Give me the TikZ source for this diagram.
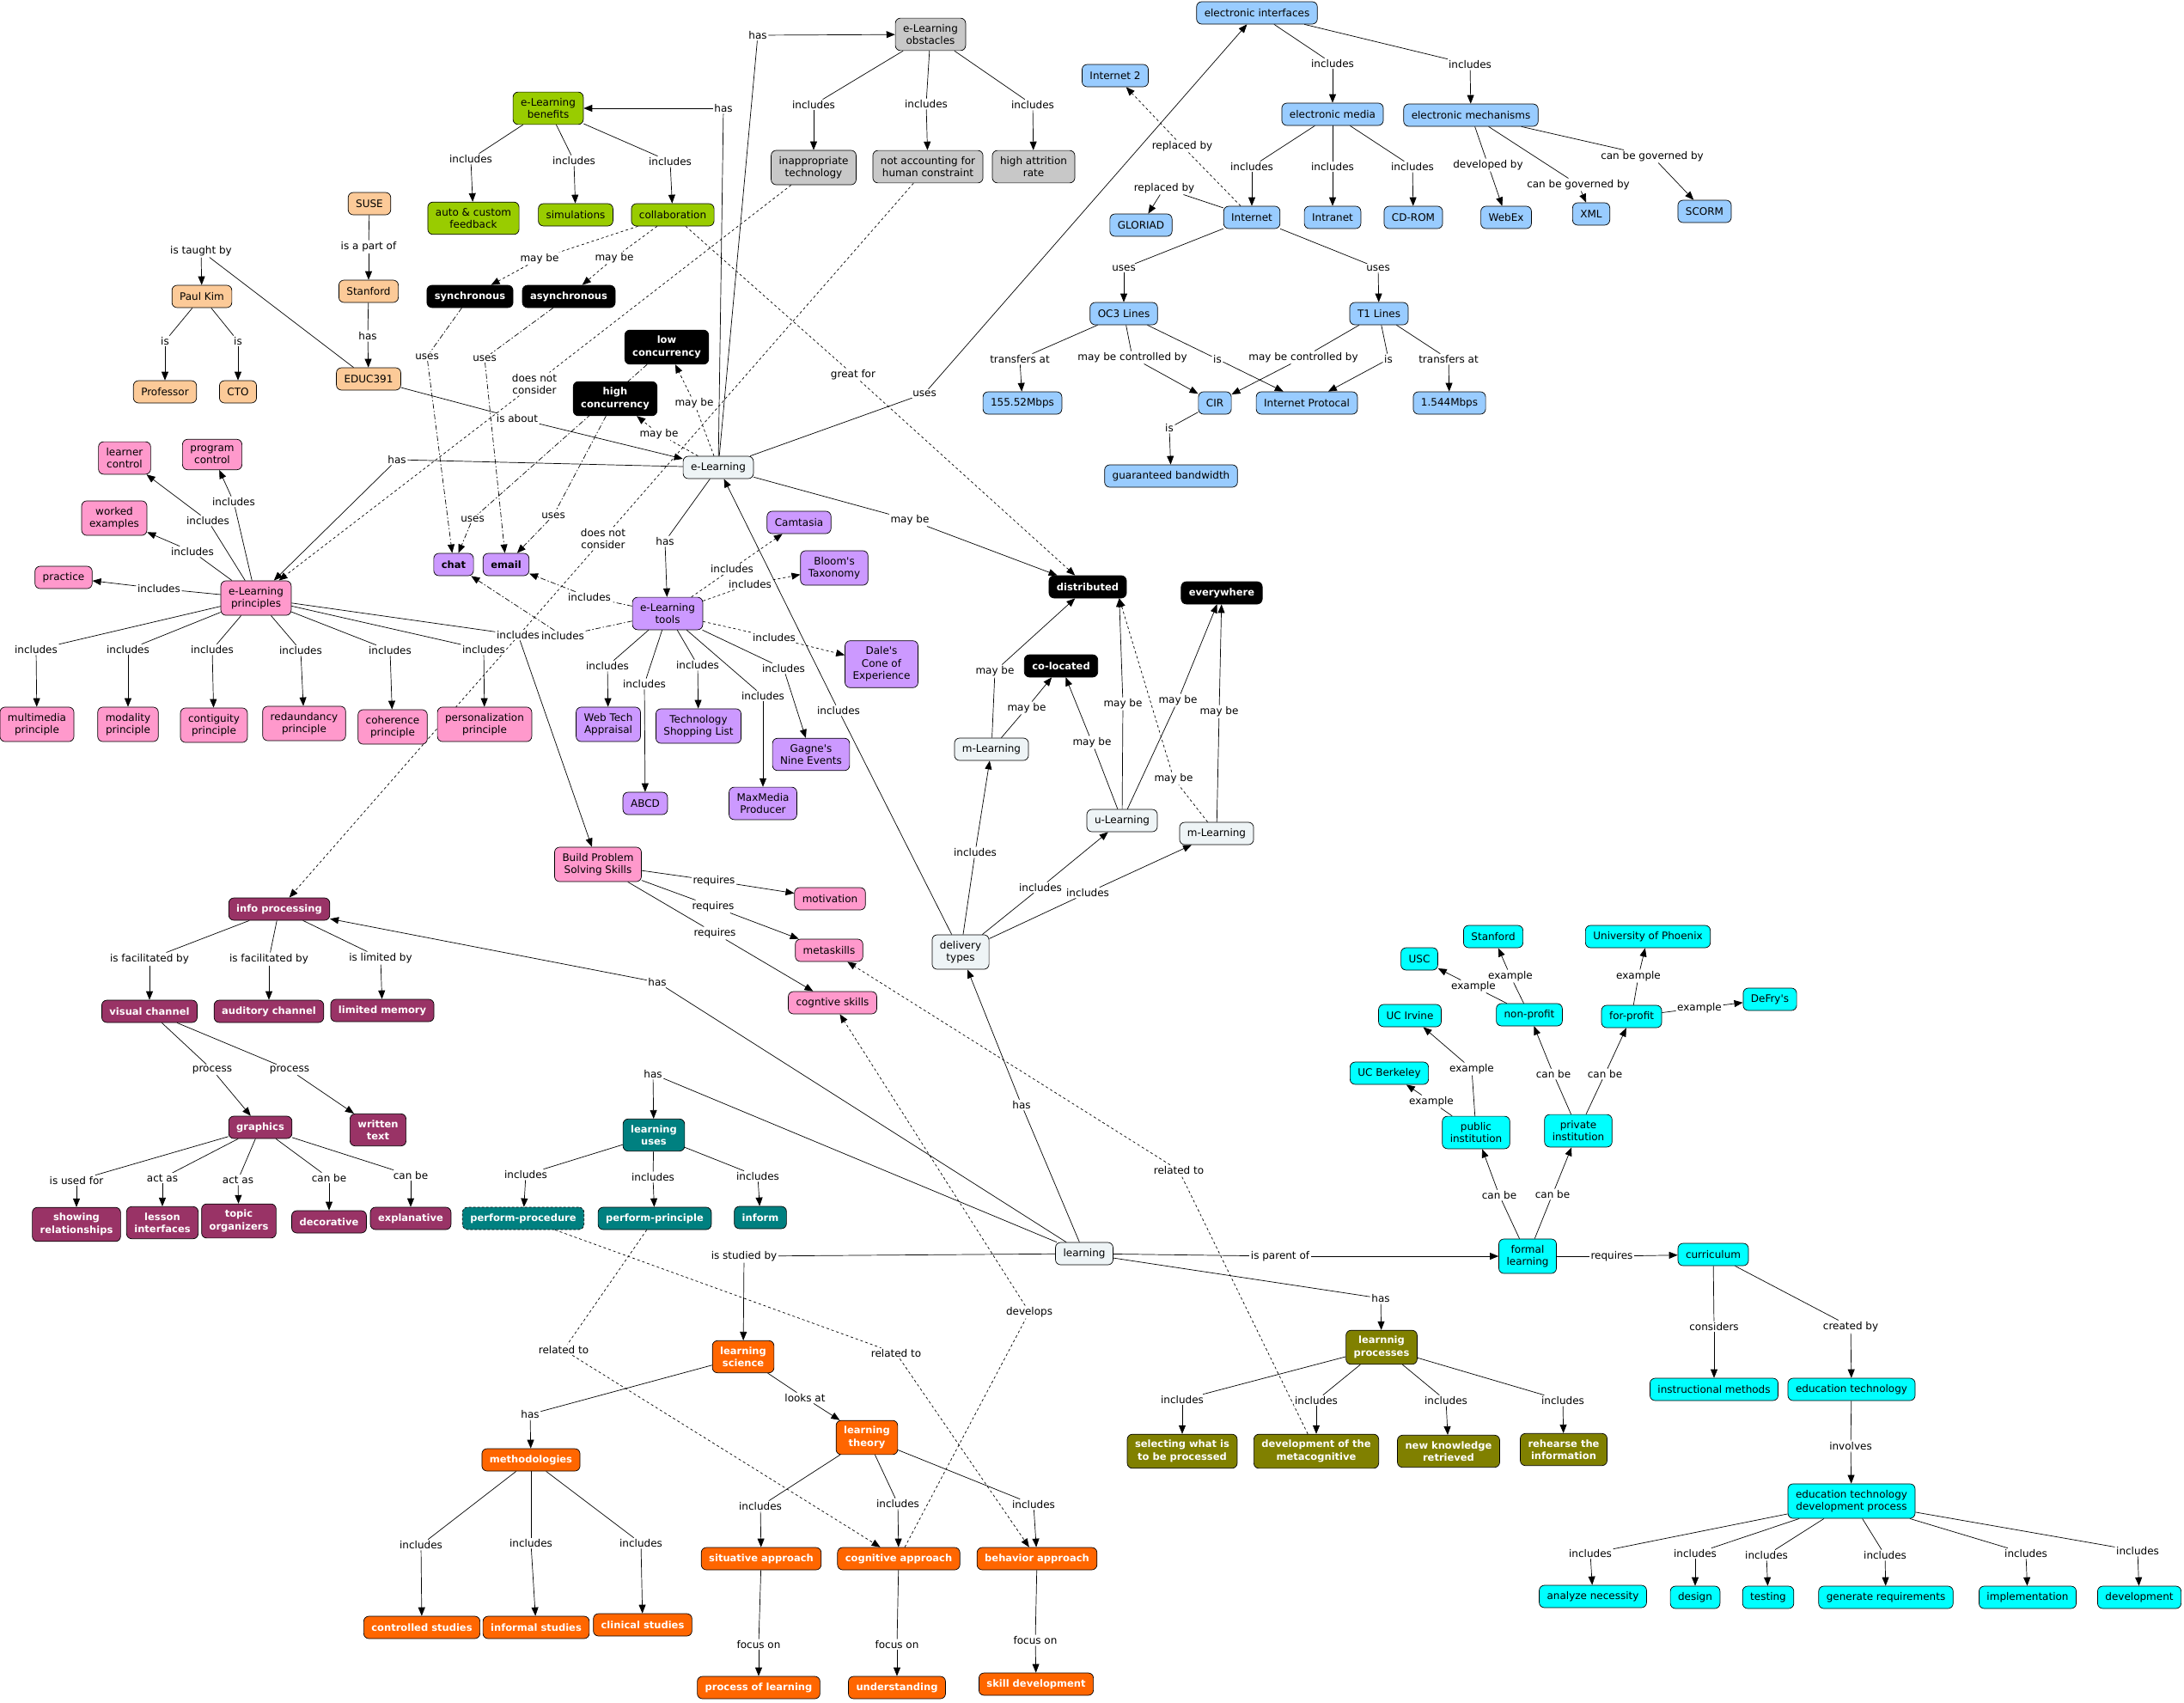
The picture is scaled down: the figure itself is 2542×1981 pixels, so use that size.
\documentclass[tikz,border=0pt]{standalone}
\usepackage{fontspec}
\setmainfont{DejaVu Sans}
\usetikzlibrary{arrows.meta,backgrounds}

\definecolor{cpeach}{RGB}{252,202,152}
\definecolor{cgreen}{RGB}{153,204,0}
\definecolor{cgray}{RGB}{200,200,200}
\definecolor{cblue}{RGB}{153,204,255}
\definecolor{cpink}{RGB}{255,153,204}
\definecolor{cpurple}{RGB}{204,153,255}
\definecolor{clight}{RGB}{238,244,246}
\definecolor{cmaroon}{RGB}{153,51,102}
\definecolor{cteal}{RGB}{0,128,128}
\definecolor{corange}{RGB}{255,102,0}
\definecolor{colive}{RGB}{128,128,0}
\definecolor{ccyan}{RGB}{0,255,255}

\begin{document}
\begin{tikzpicture}[
  x=1pt, y=-1pt,
  font=\fontsize{12}{14.5}\selectfont,
  concept/.style={
    draw,
    rounded corners=6pt,
    align=center,
    inner xsep=9pt,
    inner ysep=7pt,
    minimum height=26pt,
    line width=0.7pt
  },
  peachbox/.style={concept, fill=cpeach},
  greenbox/.style={concept, fill=cgreen},
  graybox/.style={concept, fill=cgray},
  bluebox/.style={concept, fill=cblue},
  pinkbox/.style={concept, fill=cpink},
  purplebox/.style={concept, fill=cpurple},
  lightbox/.style={concept, fill=clight},
  cyanbox/.style={concept, fill=ccyan},
  darkbox/.style={concept, text=white, font=\fontsize{11.5}{14.5}\selectfont\bfseries},
  blackbox/.style={darkbox, fill=black},
  maroonbox/.style={darkbox, fill=cmaroon},
  tealbox/.style={darkbox, fill=cteal},
  orangebox/.style={darkbox, fill=corange},
  olivebox/.style={darkbox, fill=colive},
  lbl/.style={fill=white, inner sep=1.5pt, align=center},
  link/.style={line width=0.7pt},
  arrow/.style={-{Triangle[length=10pt,width=8pt]}},
  dashline/.style={dash pattern=on 3pt off 3pt},
  dotline/.style={dash pattern=on 6pt off 2.5pt on 1.5pt off 2.5pt}
]
\useasboundingbox (0,0) rectangle (2542,1981);

% EDUC391 group
\node[peachbox] (suse) at (430,237) {SUSE};
\node[peachbox] (stanford) at (429,339) {Stanford};
\node[peachbox] (educ) at (429,441) {EDUC391};
\node[peachbox] (paulkim) at (235,345) {Paul Kim};
\node[peachbox] (professor) at (192,456) {Professor};
\node[peachbox] (cto) at (277,456) {CTO};

% benefits and obstacles
\node[greenbox] (benefits) at (638,126) {e-Learning\\benefits};
\node[greenbox] (feedback) at (551,254) {auto \& custom\\feedback};
\node[greenbox] (simulations) at (670,250) {simulations};
\node[greenbox] (collab) at (783,250) {collaboration};
\node[graybox] (obstacles) at (1083,40) {e-Learning\\obstacles};
\node[graybox] (inapptech) at (947,195) {inappropriate\\technology};
\node[graybox] (notaccount) at (1080,194) {not accounting for\\human constraint};
\node[graybox] (attrition) at (1203,194) {high attrition\\rate};

\node[blackbox] (sync) at (547,345) {synchronous};
\node[blackbox] (async) at (662,345) {asynchronous};
\node[blackbox] (lowcon) at (776,404) {low\\concurrency};
\node[blackbox] (highcon) at (716,464) {high\\concurrency};
\node[blackbox] (distributed) at (1266,683) {distributed};
\node[blackbox] (colocated) at (1235,775) {co-located};
\node[blackbox] (everywhere) at (1422,690) {everywhere};

\node[lightbox] (elearning) at (836,544) {e-Learning};
\node[lightbox] (delivery) at (1118,1108) {delivery\\types};
\node[lightbox] (mlearnA) at (1154,872) {m-Learning};
\node[lightbox] (ulearn) at (1306,955) {u-Learning};
\node[lightbox] (mlearnB) at (1416,970) {m-Learning};
\node[lightbox] (learning) at (1262,1459) {learning};

% electronic interfaces
\node[bluebox] (einterfaces) at (1463,15) {electronic interfaces};
\node[bluebox] (internet2) at (1298,88) {Internet 2};
\node[bluebox] (emedia) at (1551,133) {electronic media};
\node[bluebox] (emech) at (1712,134) {electronic mechanisms};
\node[bluebox] (gloriad) at (1328,262) {GLORIAD};
\node[bluebox] (internet) at (1457,253) {Internet};
\node[bluebox] (intranet) at (1551,253) {Intranet};
\node[bluebox] (cdrom) at (1645,253) {CD-ROM};
\node[bluebox] (webex) at (1753,253) {WebEx};
\node[bluebox] (xml) at (1852,249) {XML};
\node[bluebox] (scorm) at (1984,246) {SCORM};
\node[bluebox] (oc3) at (1308,365) {OC3 Lines};
\node[bluebox] (t1) at (1605,365) {T1 Lines};
\node[bluebox] (mbps155) at (1190,469) {155.52Mbps};
\node[bluebox] (cir) at (1414,469) {CIR};
\node[bluebox] (iprot) at (1521,469) {Internet Protocal};
\node[bluebox] (mbps1544) at (1687,469) {1.544Mbps};
\node[bluebox] (bandwidth) at (1363,554) {guaranteed bandwidth};

% principles
\node[pinkbox] (learnerctl) at (145,533) {learner\\control};
\node[pinkbox] (programctl) at (247,529) {program\\control};
\node[pinkbox] (worked) at (133,603) {worked\\examples};
\node[pinkbox] (practice) at (74,672) {practice};
\node[pinkbox] (principles) at (298,696) {e-Learning\\principles};
\node[pinkbox] (multimedia) at (43,843) {multimedia\\principle};
\node[pinkbox] (modality) at (149,843) {modality\\principle};
\node[pinkbox] (contiguity) at (249,844) {contiguity\\principle};
\node[pinkbox] (redundancy) at (354,842) {redaundancy\\principle};
\node[pinkbox] (coherence) at (457,846) {coherence\\principle};
\node[pinkbox] (personal) at (564,843) {personalization\\principle};
\node[pinkbox] (bpss) at (696,1006) {Build Problem\\Solving Skills};
\node[pinkbox] (motivation) at (966,1046) {motivation};
\node[pinkbox] (metaskills) at (965,1106) {metaskills};
\node[pinkbox] (cogskills) at (969,1167) {cogntive skills};

% tools
\node[purplebox, font=\fontsize{11.5}{14.5}\selectfont\bfseries] (chat) at (528,657) {chat};
\node[purplebox, font=\fontsize{11.5}{14.5}\selectfont\bfseries] (email) at (589,657) {email};
\node[purplebox] (camtasia) at (930,608) {Camtasia};
\node[purplebox] (blooms) at (971,661) {Bloom\textquotesingle s\\Taxonomy};
\node[purplebox] (tools) at (777,714) {e-Learning\\tools};
\node[purplebox] (dales) at (1026,773) {Dale\textquotesingle s\\Cone of\\Experience};
\node[purplebox] (webtech) at (708,843) {Web Tech\\Appraisal};
\node[purplebox] (shopping) at (813,845) {Technology\\Shopping List};
\node[purplebox] (gagne) at (944,878) {Gagne\textquotesingle s\\Nine Events};
\node[purplebox] (abcd) at (751,935) {ABCD};
\node[purplebox] (maxmedia) at (888,935) {MaxMedia\\Producer};

% info processing
\node[maroonbox] (infoproc) at (325,1058) {info processing};
\node[maroonbox] (visual) at (174,1177) {visual channel};
\node[maroonbox] (auditory) at (313,1177) {auditory channel};
\node[maroonbox] (memory) at (445,1176) {limited memory};
\node[maroonbox] (graphics) at (303,1312) {graphics};
\node[maroonbox] (written) at (440,1315) {written\\text};
\node[maroonbox] (showing) at (89,1425) {showing\\relationships};
\node[maroonbox] (lesson) at (189,1423) {lesson\\interfaces};
\node[maroonbox] (topic) at (278,1421) {topic\\organizers};
\node[maroonbox] (decorative) at (383,1422) {decorative};
\node[maroonbox] (explanative) at (478,1418) {explanative};

% learning uses
\node[tealbox] (uses) at (761,1321) {learning\\uses};
\node[tealbox, dash pattern=on 3pt off 2pt] (procedure) at (609,1418) {perform-procedure};
\node[tealbox] (principle) at (762,1418) {perform-principle};
\node[tealbox] (inform) at (885,1417) {inform};

% learning science
\node[orangebox] (science) at (865,1579) {learning\\science};
\node[orangebox] (theory) at (1009,1673) {learning\\theory};
\node[orangebox] (methods) at (618,1699) {methodologies};
\node[orangebox] (controlled) at (491,1894) {controlled studies};
\node[orangebox] (informal) at (624,1894) {informal studies};
\node[orangebox] (clinical) at (748,1891) {clinical studies};
\node[orangebox] (situative) at (886,1814) {situative approach};
\node[orangebox] (cognitive) at (1046,1814) {cognitive approach};
\node[orangebox] (behavior) at (1207,1814) {behavior approach};
\node[orangebox] (process) at (883,1964) {process of learning};
\node[orangebox] (understanding) at (1044,1964) {understanding};
\node[orangebox] (skill) at (1206,1960) {skill development};

% learning processes
\node[olivebox] (lprocesses) at (1608,1568) {learnnig\\processes};
\node[olivebox] (selecting) at (1376,1689) {selecting what is\\to be processed};
\node[olivebox] (metacog) at (1532,1689) {development of the\\metacognitive};
\node[olivebox] (newknow) at (1686,1689) {new knowledge\\retrieved};
\node[olivebox] (rehearse) at (1820,1687) {rehearse the\\information};

% formal learning
\node[cyanbox] (formal) at (1778,1462) {formal\\learning};
\node[cyanbox] (public) at (1718,1318) {public\\institution};
\node[cyanbox] (private) at (1837,1316) {private\\institution};
\node[cyanbox] (ucirvine) at (1641,1182) {UC Irvine};
\node[cyanbox] (ucberkeley) at (1617,1249) {UC Berkeley};
\node[cyanbox] (nonprofit) at (1780,1181) {non-profit};
\node[cyanbox] (forprofit) at (1899,1183) {for-profit};
\node[cyanbox] (stanfordb) at (1738,1090) {Stanford};
\node[cyanbox] (usc) at (1652,1116) {USC};
\node[cyanbox] (phoenix) at (1918,1090) {University of Phoenix};
\node[cyanbox] (defrys) at (2060,1163) {DeFry\textquotesingle s};
\node[cyanbox] (curriculum) at (1994,1460) {curriculum};
\node[cyanbox] (instmethods) at (1995,1617) {instructional methods};
\node[cyanbox] (edtech) at (2155,1617) {education technology};
\node[cyanbox] (edprocess) at (2155,1747) {education technology\\development process};
\node[cyanbox] (analyze) at (1854,1858) {analyze necessity};
\node[cyanbox] (design) at (1973,1859) {design};
\node[cyanbox] (testing) at (2058,1859) {testing};
\node[cyanbox] (genreq) at (2195,1859) {generate requirements};
\node[cyanbox] (implementation) at (2360,1859) {implementation};
\node[cyanbox] (development) at (2490,1859) {development};

% linking phrases
\node[lbl] (lpart) at (429,287) {is a part of};
\node[lbl] (lhasE) at (428,391) {has};
\node[lbl] (ltaught) at (234,292) {is taught by};
\node[lbl] (lis1) at (192,397) {is};
\node[lbl] (lis2) at (277,397) {is};
\node[lbl] (labout) at (602,487) {is about};
\node[lbl] (lhasB) at (842,126) {has};
\node[lbl] (lhasO) at (882,41) {has};
\node[lbl] (lincFb) at (548,185) {includes};
\node[lbl] (lincSim) at (668,187) {includes};
\node[lbl] (lincCol) at (780,188) {includes};
\node[lbl] (lmaySync) at (628,301) {may be};
\node[lbl] (lmayAsync) at (715,300) {may be};
\node[lbl] (lgreat) at (993,436) {great for};
\node[lbl] (lincInap) at (947,122) {includes};
\node[lbl] (lincNot) at (1078,121) {includes};
\node[lbl] (lincAttr) at (1202,122) {includes};
\node[lbl] (ldnc1) at (622,447) {does not\\consider};
\node[lbl] (ldnc2) at (702,627) {does not\\consider};
\node[lbl] (lmayLow) at (808,469) {may be};
\node[lbl] (lmayHigh) at (767,505) {may be};
\node[lbl] (lusesSync) at (497,415) {uses};
\node[lbl] (lusesAsync) at (564,417) {uses};
\node[lbl] (lusesLow) at (550,604) {uses};
\node[lbl] (lusesHigh) at (644,600) {uses};
\node[lbl] (lhasTools) at (774,630) {has};
\node[lbl] (lhasPrin) at (462,535) {has};
\node[lbl] (lusesEI) at (1076,458) {uses};
\node[lbl] (lmayDist) at (1059,605) {may be};
\node[lbl] (lincEL) at (976,827) {includes};

\node[lbl] (lincPrac) at (185,685) {includes};
\node[lbl] (lincWork) at (224,642) {includes};
\node[lbl] (lincLearner) at (242,606) {includes};
\node[lbl] (lincProg) at (272,584) {includes};
\node[lbl] (lincMM) at (42,756) {includes};
\node[lbl] (lincMod) at (149,756) {includes};
\node[lbl] (lincCont) at (247,756) {includes};
\node[lbl] (lincRed) at (350,757) {includes};
\node[lbl] (lincCoh) at (454,757) {includes};
\node[lbl] (lincPers) at (563,756) {includes};
\node[lbl] (lincBP) at (603,739) {includes};

\node[lbl] (lincEmail) at (686,695) {includes};
\node[lbl] (lincChat) at (655,740) {includes};
\node[lbl] (lincCam) at (852,662) {includes};
\node[lbl] (lincBloom) at (873,680) {includes};
\node[lbl] (lincDale) at (901,742) {includes};
\node[lbl] (lincWeb) at (707,775) {includes};
\node[lbl] (lincAbcd) at (750,796) {includes};
\node[lbl] (lincShop) at (812,774) {includes};
\node[lbl] (lincMax) at (888,810) {includes};
\node[lbl] (lincGagne) at (912,778) {includes};
\node[lbl] (lreq1) at (831,1025) {requires};
\node[lbl] (lreq2) at (830,1055) {requires};
\node[lbl] (lreq3) at (832,1086) {requires};

\node[lbl] (lhasInfo) at (765,1143) {has};
\node[lbl] (lfac1) at (174,1116) {is facilitated by};
\node[lbl] (lfac2) at (313,1116) {is facilitated by};
\node[lbl] (llim) at (443,1115) {is limited by};
\node[lbl] (lproc1) at (247,1245) {process};
\node[lbl] (lproc2) at (337,1245) {process};
\node[lbl] (lusedfor) at (89,1374) {is used for};
\node[lbl] (lact1) at (189,1371) {act as};
\node[lbl] (lact2) at (277,1373) {act as};
\node[lbl] (lcan1) at (383,1371) {can be};
\node[lbl] (lcan2) at (478,1368) {can be};

\node[lbl] (lhasUses) at (760,1250) {has};
\node[lbl] (lincProc) at (612,1367) {includes};
\node[lbl] (lincPrin) at (760,1370) {includes};
\node[lbl] (lincInf) at (882,1369) {includes};
\node[lbl] (lrel1) at (1043,1575) {related to};
\node[lbl] (lrel2) at (656,1571) {related to};
\node[lbl] (lstudied) at (866,1462) {is studied by};
\node[lbl] (lhasMeth) at (617,1646) {has};
\node[lbl] (llooks) at (937,1627) {looks at};
\node[lbl] (lincCtl) at (490,1798) {includes};
\node[lbl] (lincInfm) at (618,1796) {includes};
\node[lbl] (lincClin) at (746,1796) {includes};
\node[lbl] (lincSit) at (885,1753) {includes};
\node[lbl] (lincCog) at (1045,1750) {includes};
\node[lbl] (lincBeh) at (1203,1751) {includes};
\node[lbl] (lfoc1) at (883,1914) {focus on};
\node[lbl] (lfoc2) at (1044,1914) {focus on};
\node[lbl] (lfoc3) at (1205,1909) {focus on};
\node[lbl] (ldevelops) at (1198,1527) {develops};
\node[lbl] (lrel3) at (1372,1362) {related to};

\node[lbl] (lhasDel) at (1189,1286) {has};
\node[lbl] (lparent) at (1490,1462) {is parent of};
\node[lbl] (lhasProc) at (1607,1511) {has};
\node[lbl] (lincSel) at (1376,1629) {includes};
\node[lbl] (lincMeta) at (1532,1630) {includes};
\node[lbl] (lincNew) at (1683,1630) {includes};
\node[lbl] (lincReh) at (1819,1630) {includes};

\node[lbl] (lincMA) at (1135,992) {includes};
\node[lbl] (lincU) at (1211,1033) {includes};
\node[lbl] (lincMB) at (1266,1039) {includes};
\node[lbl] (lmay1) at (1158,781) {may be};
\node[lbl] (lmay2) at (1195,824) {may be};
\node[lbl] (lmay3) at (1271,864) {may be};
\node[lbl] (lmay4) at (1307,819) {may be};
\node[lbl] (lmay5) at (1371,815) {may be};
\node[lbl] (lmay6) at (1366,906) {may be};
\node[lbl] (lmay7) at (1419,828) {may be};

\node[lbl] (lcanPub) at (1745,1391) {can be};
\node[lbl] (lcanPriv) at (1807,1390) {can be};
\node[lbl] (lexIrv) at (1713,1244) {example};
\node[lbl] (lexBerk) at (1666,1282) {example};
\node[lbl] (lcanNon) at (1808,1250) {can be};
\node[lbl] (lcanFor) at (1868,1250) {can be};
\node[lbl] (lexStan) at (1758,1136) {example};
\node[lbl] (lexUsc) at (1715,1148) {example};
\node[lbl] (lexPhx) at (1907,1136) {example};
\node[lbl] (lexDef) at (1978,1173) {example};
\node[lbl] (lrequires) at (1876,1462) {requires};
\node[lbl] (lconsiders) at (1995,1544) {considers};
\node[lbl] (lcreated) at (2154,1544) {created by};
\node[lbl] (linvolves) at (2154,1683) {involves};
\node[lbl] (lincAn) at (1851,1808) {includes};
\node[lbl] (lincDes) at (1973,1808) {includes};
\node[lbl] (lincTest) at (2056,1810) {includes};
\node[lbl] (lincGen) at (2194,1810) {includes};
\node[lbl] (lincImp) at (2358,1808) {includes};
\node[lbl] (lincDev) at (2488,1805) {includes};

\node[lbl] (lincEM) at (1551,74) {includes};
\node[lbl] (lincEMech) at (1711,75) {includes};
\node[lbl] (lincNet) at (1457,194) {includes};
\node[lbl] (lincIntra) at (1551,194) {includes};
\node[lbl] (lincCd) at (1644,194) {includes};
\node[lbl] (ldevby) at (1732,192) {developed by};
\node[lbl] (lgovXml) at (1837,215) {can be governed by};
\node[lbl] (lgovScorm) at (1923,182) {can be governed by};
\node[lbl] (lrepl2) at (1376,170) {replaced by};
\node[lbl] (lreplG) at (1355,219) {replaced by};
\node[lbl] (lusesOC) at (1308,312) {uses};
\node[lbl] (lusesT1) at (1604,312) {uses};
\node[lbl] (ltrans1) at (1187,418) {transfers at};
\node[lbl] (lctl1) at (1318,416) {may be controlled by};
\node[lbl] (lis3) at (1417,418) {is};
\node[lbl] (lctl2) at (1517,416) {may be controlled by};
\node[lbl] (lis4) at (1616,418) {is};
\node[lbl] (ltrans2) at (1686,418) {transfers at};
\node[lbl] (lis5) at (1361,498) {is};

\begin{scope}[on background layer]
% EDUC391 group
\draw[link] (suse) -- (lpart) edge[arrow] (stanford);
\draw[link] (stanford) -- (lhasE) edge[arrow] (educ);
\draw[link] (educ) -- (ltaught) edge[arrow] (paulkim);
\draw[link] (paulkim) -- (lis1) edge[arrow] (professor);
\draw[link] (paulkim) -- (lis2) edge[arrow] (cto);
\draw[link] (educ) -- (labout) edge[arrow] (elearning);

% e-Learning
\draw[link] (elearning) -- (lhasB) edge[arrow] (benefits);
\draw[link] (benefits) -- (lincFb) edge[arrow] (feedback);
\draw[link] (benefits) -- (lincSim) edge[arrow] (simulations);
\draw[link] (benefits) -- (lincCol) edge[arrow] (collab);
\draw[link, dashline] (collab) -- (lmaySync) edge[arrow] (sync);
\draw[link, dashline] (collab) -- (lmayAsync) edge[arrow] (async);
\draw[link, dashline] (collab) -- (lgreat) edge[arrow] (distributed);
\draw[link] (elearning) -- (lhasO) edge[arrow] (obstacles);
\draw[link] (obstacles) -- (lincInap) edge[arrow] (inapptech);
\draw[link] (obstacles) -- (lincNot) edge[arrow] (notaccount);
\draw[link] (obstacles) -- (lincAttr) edge[arrow] (attrition);
\draw[link, dashline] (inapptech) -- (ldnc1) edge[arrow] (principles);
\draw[link, dashline] (notaccount) -- (ldnc2) edge[arrow] (infoproc);
\draw[link, dashline] (elearning) -- (lmayLow) edge[arrow] (lowcon);
\draw[link, dashline] (elearning) -- (lmayHigh) edge[arrow] (highcon);
\draw[link, dotline] (sync) -- (lusesSync) edge[arrow] (chat);
\draw[link, dotline] (async) -- (lusesAsync) edge[arrow] (email);
\draw[link, dotline] (lowcon) -- (lusesLow) edge[arrow] (chat);
\draw[link, dotline] (highcon) -- (lusesHigh) edge[arrow] (email);
\draw[link] (elearning) -- (lhasTools) edge[arrow] (tools);
\draw[link] (elearning) -- (lhasPrin) edge[arrow] (principles);
\draw[link] (elearning) -- (lusesEI) edge[arrow] (einterfaces);
\draw[link] (elearning) -- (lmayDist) edge[arrow] (distributed);
\draw[link] (delivery) -- (lincEL) edge[arrow] (elearning);

% principles
\draw[link] (principles) -- (lincPrac) edge[arrow] (practice);
\draw[link] (principles) -- (lincWork) edge[arrow] (worked);
\draw[link] (principles) -- (lincLearner) edge[arrow] (learnerctl);
\draw[link] (principles) -- (lincProg) edge[arrow] (programctl);
\draw[link] (principles) -- (lincMM) edge[arrow] (multimedia);
\draw[link] (principles) -- (lincMod) edge[arrow] (modality);
\draw[link] (principles) -- (lincCont) edge[arrow] (contiguity);
\draw[link] (principles) -- (lincRed) edge[arrow] (redundancy);
\draw[link] (principles) -- (lincCoh) edge[arrow] (coherence);
\draw[link] (principles) -- (lincPers) edge[arrow] (personal);
\draw[link] (principles) -- (lincBP) edge[arrow] (bpss);
\draw[link] (bpss) -- (lreq1) edge[arrow] (motivation);
\draw[link] (bpss) -- (lreq2) edge[arrow] (metaskills);
\draw[link] (bpss) -- (lreq3) edge[arrow] (cogskills);

% tools
\draw[link, dotline] (tools) -- (lincEmail) edge[arrow] (email);
\draw[link, dotline] (tools) -- (lincChat) edge[arrow] (chat);
\draw[link, dashline] (tools) -- (lincCam) edge[arrow] (camtasia);
\draw[link, dashline] (tools) -- (lincBloom) edge[arrow] (blooms);
\draw[link, dashline] (tools) -- (lincDale) edge[arrow] (dales);
\draw[link] (tools) -- (lincWeb) edge[arrow] (webtech);
\draw[link] (tools) -- (lincAbcd) edge[arrow] (abcd);
\draw[link] (tools) -- (lincShop) edge[arrow] (shopping);
\draw[link] (tools) -- (lincMax) edge[arrow] (maxmedia);
\draw[link] (tools) -- (lincGagne) edge[arrow] (gagne);

% info processing
\draw[link] (learning) -- (lhasInfo) edge[arrow] (infoproc);
\draw[link] (infoproc) -- (lfac1) edge[arrow] (visual);
\draw[link] (infoproc) -- (lfac2) edge[arrow] (auditory);
\draw[link] (infoproc) -- (llim) edge[arrow] (memory);
\draw[link] (visual) -- (lproc1) edge[arrow] (graphics);
\draw[link] (visual) -- (lproc2) edge[arrow] (written);
\draw[link] (graphics) -- (lusedfor) edge[arrow] (showing);
\draw[link] (graphics) -- (lact1) edge[arrow] (lesson);
\draw[link] (graphics) -- (lact2) edge[arrow] (topic);
\draw[link] (graphics) -- (lcan1) edge[arrow] (decorative);
\draw[link] (graphics) -- (lcan2) edge[arrow] (explanative);

% learning uses and learning science
\draw[link] (learning) -- (lhasUses) edge[arrow] (uses);
\draw[link] (uses) -- (lincProc) edge[arrow] (procedure);
\draw[link] (uses) -- (lincPrin) edge[arrow] (principle);
\draw[link] (uses) -- (lincInf) edge[arrow] (inform);
\draw[link, dashline] (procedure) -- (lrel1) edge[arrow] (behavior);
\draw[link, dashline] (principle) -- (lrel2) edge[arrow] (cognitive);
\draw[link] (learning) -- (lstudied) edge[arrow] (science);
\draw[link] (science) -- (lhasMeth) edge[arrow] (methods);
\draw[link] (science) -- (llooks) edge[arrow] (theory);
\draw[link] (methods) -- (lincCtl) edge[arrow] (controlled);
\draw[link] (methods) -- (lincInfm) edge[arrow] (informal);
\draw[link] (methods) -- (lincClin) edge[arrow] (clinical);
\draw[link] (theory) -- (lincSit) edge[arrow] (situative);
\draw[link] (theory) -- (lincCog) edge[arrow] (cognitive);
\draw[link] (theory) -- (lincBeh) edge[arrow] (behavior);
\draw[link] (situative) -- (lfoc1) edge[arrow] (process);
\draw[link] (cognitive) -- (lfoc2) edge[arrow] (understanding);
\draw[link] (behavior) -- (lfoc3) edge[arrow] (skill);
\draw[link, dashline] (cognitive) -- (ldevelops) edge[arrow] (cogskills);
\draw[link, dashline] (metacog) -- (lrel3) edge[arrow] (metaskills);

% learning processes
\draw[link] (learning) -- (lhasDel) edge[arrow] (delivery);
\draw[link] (learning) -- (lparent) edge[arrow] (formal);
\draw[link] (learning) -- (lhasProc) edge[arrow] (lprocesses);
\draw[link] (lprocesses) -- (lincSel) edge[arrow] (selecting);
\draw[link] (lprocesses) -- (lincMeta) edge[arrow] (metacog);
\draw[link] (lprocesses) -- (lincNew) edge[arrow] (newknow);
\draw[link] (lprocesses) -- (lincReh) edge[arrow] (rehearse);

% delivery types
\draw[link] (delivery) -- (lincMA) edge[arrow] (mlearnA);
\draw[link] (delivery) -- (lincU) edge[arrow] (ulearn);
\draw[link] (delivery) -- (lincMB) edge[arrow] (mlearnB);
\draw[link] (mlearnA) -- (lmay1) edge[arrow] (distributed);
\draw[link] (mlearnA) -- (lmay2) edge[arrow] (colocated);
\draw[link] (ulearn) -- (lmay3) edge[arrow] (colocated);
\draw[link] (ulearn) -- (lmay4) edge[arrow] (distributed.-20);
\draw[link] (ulearn) -- (lmay5) edge[arrow] (everywhere);
\draw[link, dashline] (mlearnB) -- (lmay6) edge[arrow] (distributed.-20);
\draw[link] (mlearnB) -- (lmay7) edge[arrow] (everywhere);

% formal learning
\draw[link] (formal) -- (lcanPub) edge[arrow] (public);
\draw[link] (formal) -- (lcanPriv) edge[arrow] (private);
\draw[link] (public) -- (lexIrv) edge[arrow] (ucirvine);
\draw[link] (public) -- (lexBerk) edge[arrow] (ucberkeley);
\draw[link] (private) -- (lcanNon) edge[arrow] (nonprofit);
\draw[link] (private) -- (lcanFor) edge[arrow] (forprofit);
\draw[link] (nonprofit) -- (lexStan) edge[arrow] (stanfordb);
\draw[link] (nonprofit) -- (lexUsc) edge[arrow] (usc);
\draw[link] (forprofit) -- (lexPhx) edge[arrow] (phoenix);
\draw[link] (forprofit) -- (lexDef) edge[arrow] (defrys);
\draw[link] (formal) -- (lrequires) edge[arrow] (curriculum);
\draw[link] (curriculum) -- (lconsiders) edge[arrow] (instmethods);
\draw[link] (curriculum) -- (lcreated) edge[arrow] (edtech);
\draw[link] (edtech) -- (linvolves) edge[arrow] (edprocess);
\draw[link] (edprocess) -- (lincAn) edge[arrow] (analyze);
\draw[link] (edprocess) -- (lincDes) edge[arrow] (design);
\draw[link] (edprocess) -- (lincTest) edge[arrow] (testing);
\draw[link] (edprocess) -- (lincGen) edge[arrow] (genreq);
\draw[link] (edprocess) -- (lincImp) edge[arrow] (implementation);
\draw[link] (edprocess) -- (lincDev) edge[arrow] (development);

% electronic interfaces
\draw[link] (einterfaces) -- (lincEM) edge[arrow] (emedia);
\draw[link] (einterfaces) -- (lincEMech) edge[arrow] (emech);
\draw[link] (emedia) -- (lincNet) edge[arrow] (internet);
\draw[link] (emedia) -- (lincIntra) edge[arrow] (intranet);
\draw[link] (emedia) -- (lincCd) edge[arrow] (cdrom);
\draw[link] (emech) -- (ldevby) edge[arrow] (webex);
\draw[link] (emech) -- (lgovXml) edge[arrow] (xml);
\draw[link] (emech) -- (lgovScorm) edge[arrow] (scorm);
\draw[link, dashline] (internet) -- (lrepl2) edge[arrow] (internet2);
\draw[link] (internet) -- (lreplG) edge[arrow] (gloriad);
\draw[link] (internet) -- (lusesOC) edge[arrow] (oc3);
\draw[link] (internet) -- (lusesT1) edge[arrow] (t1);
\draw[link] (oc3) -- (ltrans1) edge[arrow] (mbps155);
\draw[link] (oc3) -- (lctl1) edge[arrow] (cir);
\draw[link] (oc3) -- (lis3) edge[arrow] (iprot);
\draw[link] (t1) -- (lctl2) edge[arrow] (cir);
\draw[link] (t1) -- (lis4) edge[arrow] (iprot);
\draw[link] (t1) -- (ltrans2) edge[arrow] (mbps1544);
\draw[link] (cir) -- (lis5) edge[arrow] (bandwidth);
\end{scope}
\end{tikzpicture}
\end{document}
